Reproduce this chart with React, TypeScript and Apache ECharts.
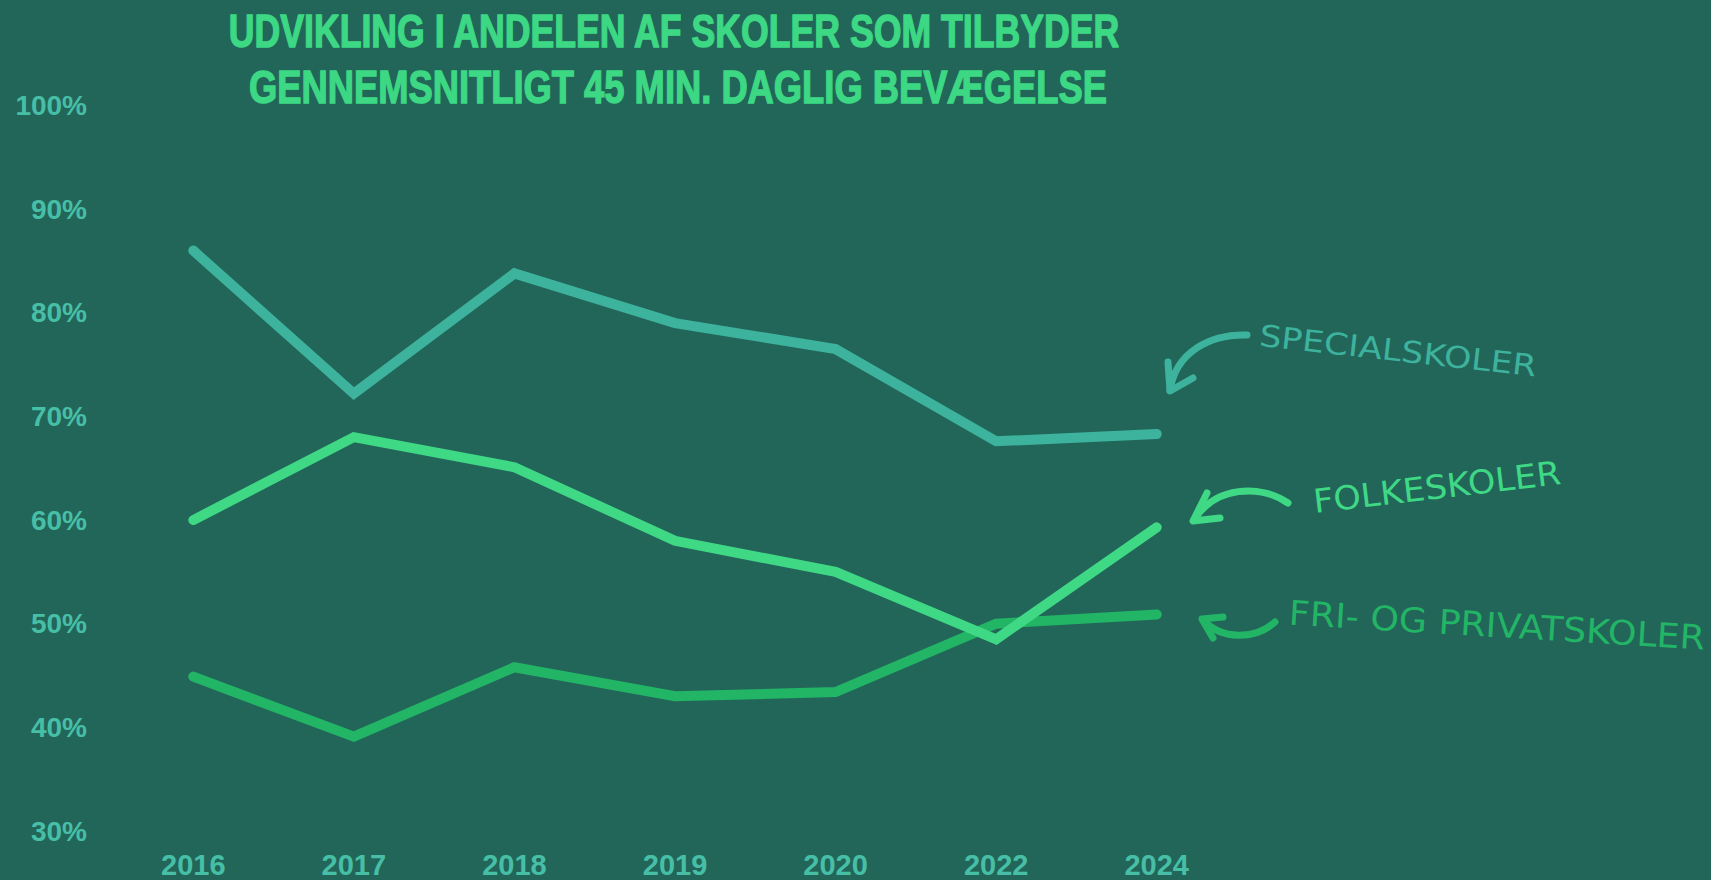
import React, { useEffect, useRef } from "react";
import * as echarts from "echarts";

const years = ["2016", "2017", "2018", "2019", "2020", "2022", "2024"];
const specialskoler = [86.0, 72.2, 83.8, 79.0, 76.5, 67.6, 68.3];
const folkeskoler = [60.0, 68.0, 65.1, 58.0, 55.0, 48.5, 59.3];
const friPrivat = [44.9, 39.1, 45.8, 43.0, 43.4, 50.0, 50.9];
const yTicks = { min: 30, max: 100, interval: 10 };
const titleLines = [
  "UDVIKLING I ANDELEN AF SKOLER SOM TILBYDER",
  "GENNEMSNITLIGT 45 MIN. DAGLIG BEVÆGELSE",
];
const seriesNames = ["SPECIALSKOLER", "FOLKESKOLER", "FRI- OG PRIVATSKOLER"];

const BG = "#22665a";
const C_SPEC = "#3db39e";
const C_FOLKE = "#3fd985";
const C_FRI = "#22b566";
const C_AXIS = "#47bfa6";
const C_TITLE = "#3dd884";

function arrow(
  color: string,
  curve: { x1: number; y1: number; x2: number; y2: number; cpx1: number; cpy1: number; cpx2: number; cpy2: number },
  head: number[][]
) {
  const st = { stroke: color, lineWidth: 7, lineCap: "round", lineJoin: "round", fill: "none" };
  return [
    { type: "bezierCurve", shape: curve, style: st, silent: true },
    { type: "polyline", shape: { points: head }, style: st, silent: true },
  ];
}

export default function App() {
  const ref = useRef<HTMLDivElement>(null);
  useEffect(() => {
    if (!ref.current) return;
    const chart = echarts.init(ref.current, null, { renderer: "svg" });
    const lineSeries = (name: string, data: number[], color: string) => ({
      name,
      type: "line",
      data,
      showSymbol: false,
      symbol: "none",
      lineStyle: { color, width: 10, cap: "round", join: "miter" },
      itemStyle: { color },
      silent: true,
    });
    const titleStyle = (text: string) => ({
      text,
      fill: C_TITLE,
      stroke: C_TITLE,
      lineWidth: 1.4,
      font: "bold 46px 'Liberation Sans'",
      align: "center",
      verticalAlign: "middle",
    });
    chart.setOption({
      animation: false,
      backgroundColor: BG,
      grid: { left: 113, right: 474, top: 105.5, bottom: 48, containLabel: false },
      xAxis: {
        type: "category",
        data: years,
        boundaryGap: true,
        axisLine: { show: false },
        axisTick: { show: false },
        axisLabel: {
          color: C_AXIS,
          fontFamily: "Liberation Sans",
          fontWeight: "bold",
          fontSize: 29,
          lineHeight: 30,
          margin: 19,
        },
        splitLine: { show: false },
      },
      yAxis: {
        type: "value",
        min: yTicks.min,
        max: yTicks.max,
        interval: yTicks.interval,
        axisLine: { show: false },
        axisTick: { show: false },
        splitLine: { show: false },
        axisLabel: {
          formatter: "{value}%",
          color: C_AXIS,
          fontFamily: "Liberation Sans",
          fontWeight: "bold",
          fontSize: 28,
          margin: 26,
        },
      },
      series: [
        lineSeries(seriesNames[0], specialskoler, C_SPEC),
        lineSeries(seriesNames[2], friPrivat, C_FRI),
        lineSeries(seriesNames[1], folkeskoler, C_FOLKE),
      ],
      graphic: [
        { type: "text", x: 674, y: 31, scaleX: 0.775, style: titleStyle(titleLines[0]) },
        { type: "text", x: 678, y: 87, scaleX: 0.79, style: titleStyle(titleLines[1]) },
        {
          type: "text",
          x: 1398,
          y: 351,
          rotation: -0.11,
          scaleX: 1.16,
          style: {
            text: seriesNames[0],
            fill: C_SPEC,
            font: "30px 'DejaVu Sans'",
            align: "center",
            verticalAlign: "middle",
          },
        },
        {
          type: "text",
          x: 1437,
          y: 487,
          rotation: 0.117,
          scaleX: 1.06,
          style: {
            text: seriesNames[1],
            fill: C_FOLKE,
            font: "33px 'DejaVu Sans'",
            align: "center",
            verticalAlign: "middle",
          },
        },
        {
          type: "text",
          x: 1497,
          y: 625,
          rotation: -0.06,
          scaleX: 1.07,
          style: {
            text: seriesNames[2],
            fill: C_FRI,
            font: "34px 'DejaVu Sans'",
            align: "center",
            verticalAlign: "middle",
          },
        },
        ...arrow(
          C_SPEC,
          { x1: 1247, y1: 335, cpx1: 1210, cpy1: 334, cpx2: 1176, cpy2: 352, x2: 1170, y2: 390 },
          [[1168, 362], [1170, 391], [1193, 378]]
        ),
        ...arrow(
          C_FOLKE,
          { x1: 1288, y1: 503, cpx1: 1260, cpy1: 484, cpx2: 1215, cpy2: 486, x2: 1194, y2: 520 },
          [[1207, 493], [1193, 521], [1220, 518]]
        ),
        ...arrow(
          C_FRI,
          { x1: 1275, y1: 622, cpx1: 1255, cpy1: 640, cpx2: 1222, cpy2: 640, x2: 1203, y2: 620 },
          [[1223, 617], [1202, 619], [1213, 638]]
        ),
      ],
    });
    return () => chart.dispose();
  }, []);
  return (
    <div
      ref={ref}
      style={{ position: "absolute", left: 0, top: 0, width: 1711, height: 880 }}
    />
  );
}
